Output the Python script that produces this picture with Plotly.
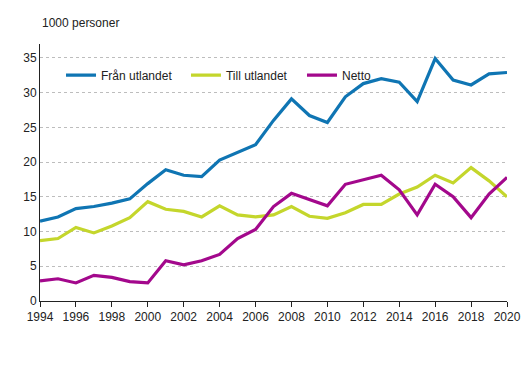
import plotly.graph_objects as go

years = list(range(1994, 2021))
fran = [11.5, 12.1, 13.3, 13.6, 14.1, 14.7, 16.9, 18.9, 18.1, 17.9, 20.3, 21.4, 22.5,
        26.0, 29.1, 26.7, 25.7, 29.4, 31.3, 32.0, 31.5, 28.7, 34.9, 31.8, 31.1, 32.7, 32.9]
till = [8.7, 9.0, 10.6, 9.8, 10.8, 12.0, 14.3, 13.2, 12.9, 12.1, 13.7, 12.4, 12.1,
        12.4, 13.6, 12.2, 11.9, 12.7, 13.9, 13.9, 15.4, 16.4, 18.1, 17.0, 19.2, 17.3, 15.0]
netto = [2.9, 3.2, 2.6, 3.7, 3.4, 2.8, 2.6, 5.8, 5.2, 5.8, 6.7, 9.0, 10.3,
         13.6, 15.5, 14.6, 13.7, 16.8, 17.5, 18.1, 16.0, 12.4, 16.8, 15.0, 12.0, 15.4, 17.8]
names = ["Från utlandet", "Till utlandet", "Netto"]
colors = ["#0f75b3", "#c4d62c", "#a3088c"]
xticks = list(range(1994, 2021, 2))
yticks = [0, 5, 10, 15, 20, 25, 30, 35]

legend_ids = ["legend", "legend2", "legend3"]
legend_x = [0.045, 0.3126, 0.561]

fig = go.Figure()
for name, vals, c, lid in zip(names, [fran, till, netto], colors, legend_ids):
    fig.add_trace(go.Scatter(x=years, y=vals, name=name, mode="lines", legend=lid,
                             line=dict(color=c, width=3.2)))

legend_style = dict(orientation="h", y=0.879, xanchor="left", yanchor="middle",
                    font=dict(size=12), bgcolor="rgba(0,0,0,0)", itemwidth=30)

# page body has an 8px default margin, so the figure is sized/offset to compensate
fig.update_layout(
    width=522, height=363,
    margin=dict(l=32, r=23, t=36, b=70),
    paper_bgcolor="white", plot_bgcolor="white",
    font=dict(family="Liberation Sans, Arial, sans-serif", size=12, color="#222222"),
    showlegend=True,
    legend=dict(x=legend_x[0], **legend_style),
    legend2=dict(x=legend_x[1], **legend_style),
    legend3=dict(x=legend_x[2], **legend_style),
    annotations=[dict(text="1000 personer", xref="paper", yref="paper", x=0.0, y=1.0,
                      yshift=21, xanchor="left", yanchor="middle", showarrow=False,
                      font=dict(size=12))],
)
fig.update_xaxes(range=[1994, 2020], tickvals=xticks, ticks="outside", ticklen=5,
                 tickcolor="#222222", showline=True, linecolor="#222222", linewidth=1,
                 showgrid=False, zeroline=False, automargin=False)
fig.update_yaxes(range=[0, 37], tickvals=yticks, showline=True, linecolor="#222222",
                 linewidth=1, showgrid=True, gridcolor="#bdbdbd", griddash="dot",
                 gridwidth=1, zeroline=False, ticks="", automargin=False)

fig.write_html("out.html")
